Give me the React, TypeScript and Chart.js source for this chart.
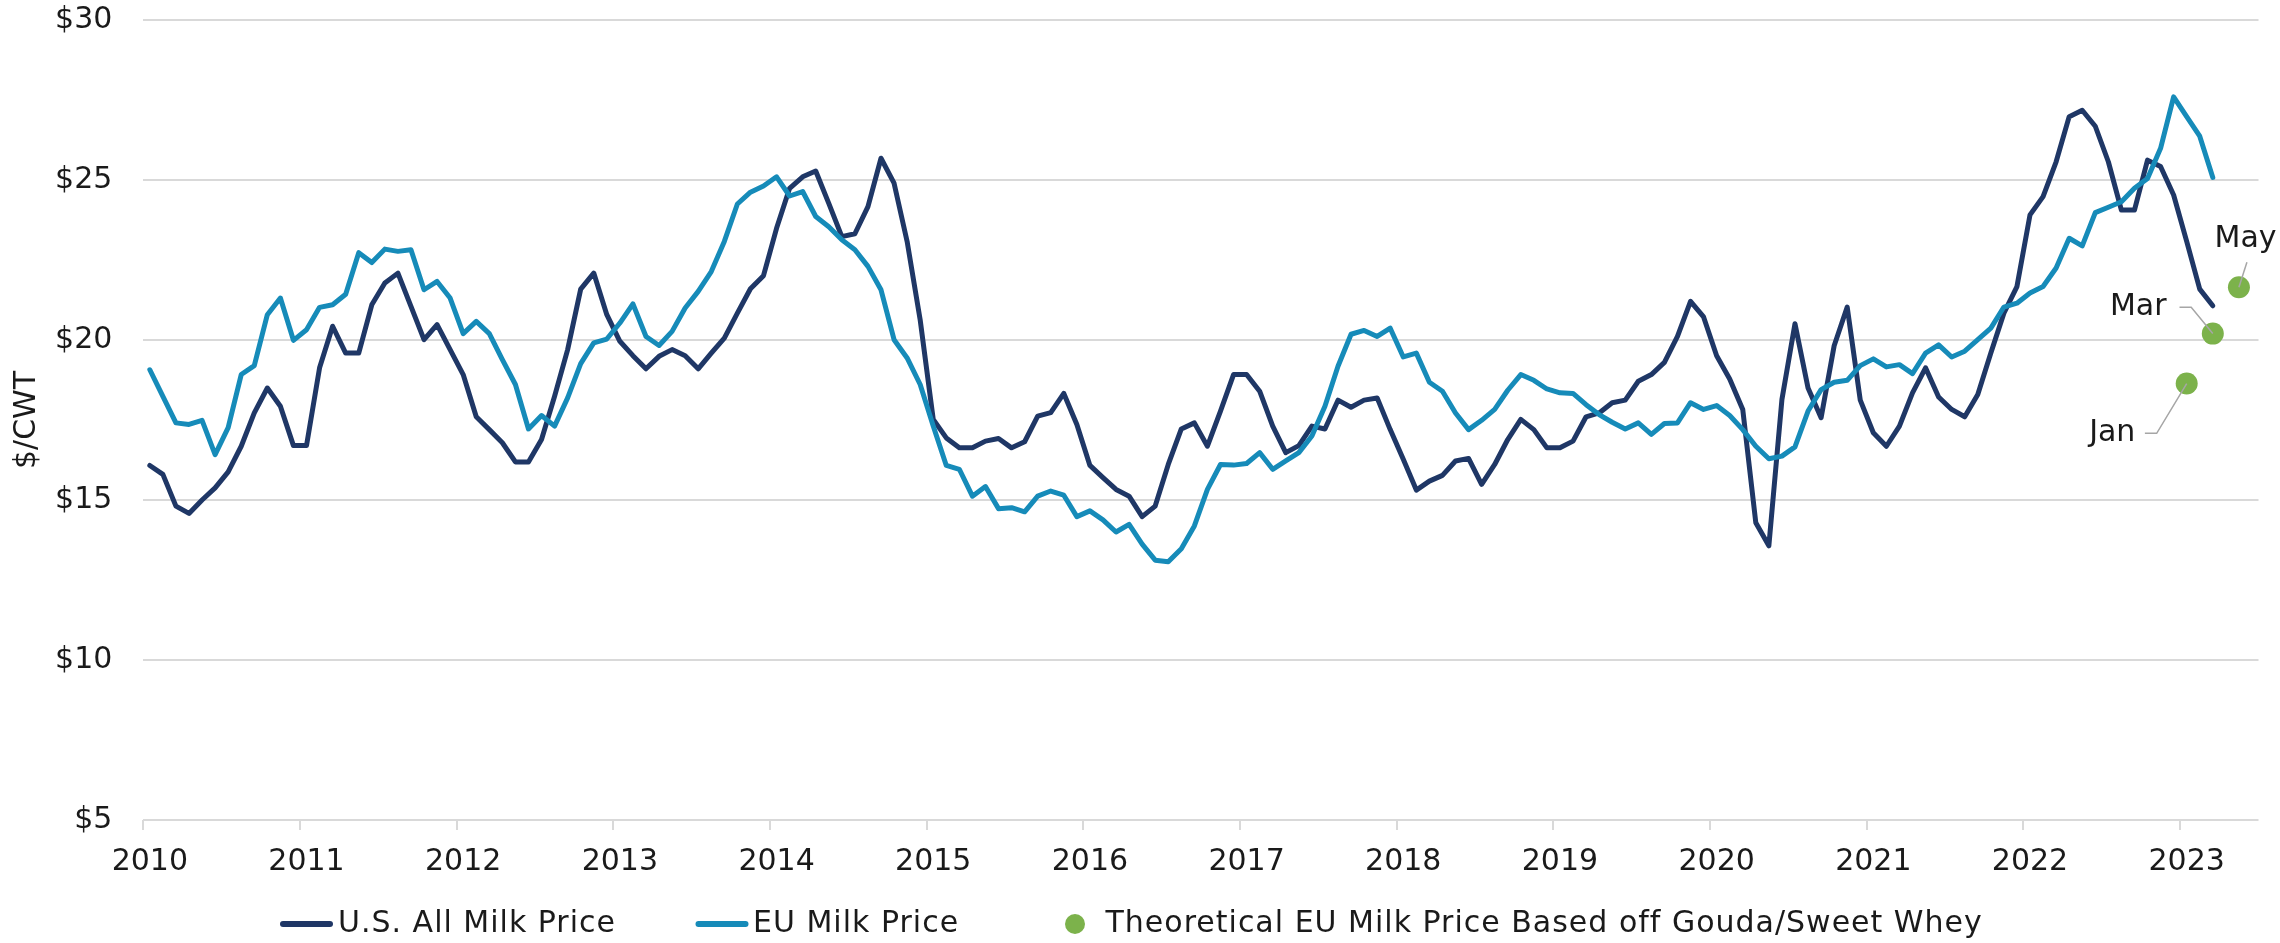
import React, { useEffect, useRef } from 'react';
import { Chart, registerables } from 'chart.js';

Chart.register(...registerables);

// ---------- data ----------
const firstYear = 2010;
const monthCount = 162; // Jan 2010 – Jun 2023 (category slots)
const yearTickLabels = ['2010', '2011', '2012', '2013', '2014', '2015', '2016', '2017', '2018', '2019', '2020', '2021', '2022', '2023'];
const yTickValues = [5, 10, 15, 20, 25, 30];

// U.S. All Milk Price, $/CWT, monthly from Jan 2010
const usAllMilkPrice = [
  16.08, 15.8, 14.81, 14.58, 15.0, 15.38, 15.88, 16.68, 17.72, 18.5, 17.93, 16.7,
  16.7, 19.13, 20.43, 19.59, 19.59, 21.1, 21.78, 22.09, 21.05, 20.01, 20.48, 19.7,
  18.92, 17.6, 17.2, 16.79, 16.19, 16.19, 16.89, 18.24, 19.7, 21.59, 22.09, 20.79,
  19.96, 19.51, 19.1, 19.49, 19.7, 19.51, 19.1, 19.59, 20.06, 20.84, 21.6, 22.01,
  23.49, 24.74, 25.1, 25.28, 24.27, 23.23, 23.32, 24.17, 25.68, 24.9, 23.08, 20.63,
  17.52, 16.94, 16.63, 16.63, 16.84, 16.92, 16.63, 16.82, 17.62, 17.73, 18.33, 17.36,
  16.08, 15.7, 15.33, 15.12, 14.48, 14.81, 16.11, 17.22, 17.41, 16.68, 17.78, 18.92,
  18.92, 18.4, 17.31, 16.48, 16.7, 17.31, 17.22, 18.12, 17.9, 18.12, 18.19, 17.2,
  16.27, 15.31, 15.59, 15.77, 16.22, 16.3, 15.49, 16.11, 16.89, 17.52, 17.2, 16.63,
  16.63, 16.84, 17.6, 17.72, 18.04, 18.12, 18.71, 18.92, 19.3, 20.11, 21.21, 20.72,
  19.51, 18.78, 17.83, 14.29, 13.57, 18.14, 20.51, 18.5, 17.57, 19.82, 21.03, 18.12,
  17.1, 16.68, 17.31, 18.35, 19.13, 18.22, 17.83, 17.6, 18.3, 19.59, 20.84, 21.67,
  23.91, 24.48, 25.57, 26.98, 27.18, 26.68, 25.57, 24.06, 24.06, 25.62, 25.42, 24.53,
  23.08, 21.59, 21.07,
];

// EU Milk Price, $/CWT, monthly from Jan 2010
const euMilkPrice = [
  19.07, 18.24, 17.41, 17.36, 17.49, 16.42, 17.26, 18.92, 19.2, 20.79, 21.31, 19.99,
  20.32, 21.02, 21.1, 21.43, 22.73, 22.42, 22.84, 22.77, 22.82, 21.57, 21.83, 21.31,
  20.2, 20.58, 20.2, 19.39, 18.61, 17.22, 17.64, 17.31, 18.19, 19.26, 19.91, 20.03,
  20.53, 21.13, 20.11, 19.83, 20.27, 21.0, 21.52, 22.14, 23.08, 24.25, 24.62, 24.81,
  25.1, 24.5, 24.64, 23.86, 23.54, 23.13, 22.82, 22.3, 21.57, 20.01, 19.44, 18.61,
  17.31, 16.08, 15.96, 15.12, 15.42, 14.73, 14.76, 14.63, 15.12, 15.28, 15.15, 14.48,
  14.66, 14.38, 14.0, 14.24, 13.62, 13.12, 13.07, 13.48, 14.19, 15.33, 16.11, 16.09,
  16.14, 16.48, 15.96, 16.22, 16.48, 17.0, 17.93, 19.18, 20.18, 20.3, 20.11, 20.37,
  19.47, 19.59, 18.68, 18.4, 17.72, 17.2, 17.49, 17.83, 18.43, 18.92, 18.74, 18.47,
  18.35, 18.33, 17.98, 17.67, 17.43, 17.22, 17.41, 17.05, 17.39, 17.41, 18.04, 17.83,
  17.95, 17.64, 17.2, 16.68, 16.29, 16.37, 16.66, 17.78, 18.45, 18.68, 18.74, 19.2,
  19.41, 19.16, 19.23, 18.95, 19.59, 19.85, 19.47, 19.65, 20.01, 20.37, 21.03, 21.15,
  21.47, 21.67, 22.25, 23.18, 22.94, 23.98, 24.15, 24.32, 24.74, 25.05, 25.99, 27.6,
  26.98, 26.37, 25.08,
];

// Theoretical EU Milk Price based off Gouda/Sweet Whey
const theoreticalMonths = ['2023-01', '2023-03', '2023-05'];
const theoreticalValues = [18.64, 20.2, 21.65];
const theoreticalNotes = ['Jan', 'Mar', 'May'];

// ---------- styling ----------
const FONT = "'DejaVu Sans', sans-serif";
const TEXT = '#1a1a1a';
const GRID = '#d9d9d9';
const NAVY = '#1f3766';
const TEAL = '#168bb9';
const GREEN = '#7cb24b';
const FS = 30;

const monthLabels = Array.from({ length: monthCount }, (_, i) => {
  const y = firstYear + Math.floor(i / 12);
  const m = String((i % 12) + 1).padStart(2, '0');
  return `${y}-${m}`;
});

const theoreticalSeries: (number | null)[] = monthLabels.map((m) => {
  const k = theoreticalMonths.indexOf(m);
  return k >= 0 ? theoreticalValues[k] : null;
});

// leader line / label offsets relative to each green point (pixels)
const noteLayout = [
  { dx: -51.3, dy: 50, align: 'right', path: [[-30, 49.8], [-41.8, 49.8]] },
  { dx: -46.3, dy: -26, align: 'right', path: [[-21.6, -26.3], [-33.3, -26.3]] },
  { dx: -24.4, dy: -48.2, align: 'left', path: [[8, -25]] },
];

const legendLayout = [
  { marker: 306.5, text: 338 },
  { marker: 722, text: 753 },
  { marker: 1075, text: 1105.5 },
];
const legendY = 924;

const notesPlugin = {
  id: 'theoNotes',
  afterDatasetsDraw(chart: any) {
    const meta = chart.getDatasetMeta(2);
    const ctx = chart.ctx as CanvasRenderingContext2D;
    theoreticalMonths.forEach((m, k) => {
      const idx = monthLabels.indexOf(m);
      const el = meta.data[idx];
      if (!el) return;
      const { x, y } = el;
      const lay = noteLayout[k];
      ctx.save();
      ctx.strokeStyle = '#a6a6a6';
      ctx.lineWidth = 1.5;
      ctx.beginPath();
      ctx.moveTo(x, y);
      lay.path.forEach(([px, py]) => ctx.lineTo(x + px, y + py));
      ctx.stroke();
      ctx.fillStyle = TEXT;
      ctx.font = `${FS}px ${FONT}`;
      ctx.textAlign = lay.align as CanvasTextAlign;
      ctx.textBaseline = 'middle';
      ctx.fillText(theoreticalNotes[k], x + lay.dx, y + lay.dy);
      ctx.restore();
    });
  },
};

const legendPlugin = {
  id: 'bottomLegend',
  afterDraw(chart: any) {
    const ctx = chart.ctx as CanvasRenderingContext2D;
    chart.data.datasets.forEach((ds: any, i: number) => {
      const pos = legendLayout[i];
      if (!pos) return;
      ctx.save();
      if (ds.showLine === false) {
        ctx.fillStyle = ds.pointBackgroundColor;
        ctx.beginPath();
        ctx.arc(pos.marker, legendY, 10, 0, Math.PI * 2);
        ctx.fill();
      } else {
        ctx.strokeStyle = ds.borderColor;
        ctx.lineWidth = 6;
        ctx.lineCap = 'round';
        ctx.beginPath();
        ctx.moveTo(pos.marker - 23.5, legendY);
        ctx.lineTo(pos.marker + 23.5, legendY);
        ctx.stroke();
      }
      ctx.fillStyle = TEXT;
      ctx.font = `${FS}px ${FONT}`;
      (ctx as any).letterSpacing = '1px';
      ctx.textAlign = 'left';
      ctx.textBaseline = 'middle';
      ctx.fillText(ds.label, pos.text, legendY);
      ctx.restore();
    });
  },
};

export default function App() {
  const ref = useRef<HTMLCanvasElement>(null);

  useEffect(() => {
    if (!ref.current) return;
    Chart.defaults.font.family = FONT;
    const chart = new Chart(ref.current, {
      type: 'line',
      data: {
        labels: monthLabels,
        datasets: [
          {
            label: 'U.S. All Milk Price',
            data: usAllMilkPrice,
            borderColor: NAVY,
            backgroundColor: NAVY,
            borderWidth: 5,
            pointRadius: 0,
            borderJoinStyle: 'round',
            borderCapStyle: 'round',
            tension: 0,
            order: 2,
          },
          {
            label: 'EU Milk Price',
            data: euMilkPrice,
            borderColor: TEAL,
            backgroundColor: TEAL,
            borderWidth: 5,
            pointRadius: 0,
            borderJoinStyle: 'round',
            borderCapStyle: 'round',
            tension: 0,
            order: 1,
          },
          {
            label: 'Theoretical EU Milk Price Based off Gouda/Sweet Whey',
            data: theoreticalSeries,
            showLine: false,
            pointRadius: 11,
            pointBackgroundColor: GREEN,
            pointBorderWidth: 0,
            borderColor: GREEN,
            backgroundColor: GREEN,
            order: 0,
          },
        ] as any,
      },
      options: {
        responsive: false,
        animation: false,
        events: [],
        layout: { padding: { top: 20, right: 21.5, bottom: 50, left: 0 } },
        plugins: {
          legend: { display: false },
          tooltip: { enabled: false },
          title: { display: false },
        },
        scales: {
          x: {
            type: 'category',
            offset: true,
            grid: {
              offset: true,
              drawOnChartArea: false,
              drawTicks: true,
              tickLength: 10,
              lineWidth: 2,
              color: (c: any) => (c.index !== undefined && c.index % 12 === 0 ? GRID : 'rgba(0,0,0,0)'),
            },
            border: { display: false },
            ticks: {
              autoSkip: false,
              maxRotation: 0,
              minRotation: 0,
              padding: 14,
              color: TEXT,
              font: { size: FS, family: FONT },
              callback: (_v: any, i: number) => (i % 12 === 0 ? yearTickLabels[i / 12] ?? '' : ''),
            },
            afterFit: (s: any) => {
              s.height = 73;
            },
          },
          y: {
            min: 5,
            max: 30,
            afterBuildTicks: (s: any) => {
              s.ticks = yTickValues.map((v) => ({ value: v }));
            },
            grid: {
              color: GRID,
              lineWidth: 2,
              drawTicks: true,
              tickLength: 31,
              tickColor: 'rgba(0,0,0,0)',
            },
            border: { display: false },
            ticks: {
              padding: 0,
              color: TEXT,
              font: { size: FS, family: FONT },
              callback: (v: any) => '$' + v,
            },
            title: {
              display: true,
              text: '$/CWT',
              color: TEXT,
              font: { size: FS, family: FONT },
              padding: { top: 9.4, bottom: 0 },
            },
            afterFit: (s: any) => {
              s.width = 143.3;
            },
          },
        },
      } as any,
      plugins: [notesPlugin, legendPlugin],
    });
    return () => chart.destroy();
  }, []);

  return (
    <div style={{ position: 'absolute', left: 0, top: 0, width: 2280, height: 943, background: '#fff' }}>
      <canvas ref={ref} width={2280} height={943} style={{ display: 'block', width: 2280, height: 943 }} />
    </div>
  );
}
